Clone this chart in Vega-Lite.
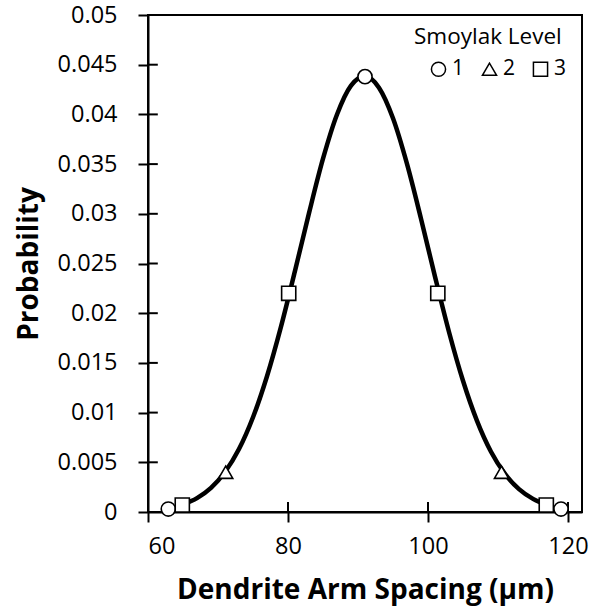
{
  "$schema": "https://vega.github.io/schema/vega-lite/v6.json",
  "width": 434,
  "height": 497,
  "autosize": "none",
  "padding": {"left": 148, "top": 15, "right": 7, "bottom": 96},
  "background": "white",
  "config": {
    "view": {"stroke": "black", "strokeWidth": 2},
    "font": "Open Sans",
    "axis": {"grid": false, "domainColor": "black", "domainWidth": 2, "tickColor": "black", "tickWidth": 2, "tickSize": 10, "labelColor": "black", "labelFont": "Open Sans", "labelFontSize": 23.5, "titleFont": "Open Sans", "titleColor": "black", "titleFontWeight": "bold", "titleFontSize": 28}
  },
  "datasets": {
    "curve": [
      {"x": 65, "p": 0.00076}, {"x": 67, "p": 0.00139}, {"x": 69, "p": 0.00242}, {"x": 71, "p": 0.00402},
      {"x": 73, "p": 0.00633}, {"x": 75, "p": 0.00953}, {"x": 77, "p": 0.01366}, {"x": 79, "p": 0.01865},
      {"x": 81, "p": 0.02426}, {"x": 83, "p": 0.03007}, {"x": 85, "p": 0.03554}, {"x": 87, "p": 0.03999},
      {"x": 89, "p": 0.0429}, {"x": 91, "p": 0.04384}, {"x": 93, "p": 0.04269}, {"x": 95, "p": 0.03961},
      {"x": 97, "p": 0.03502}, {"x": 99, "p": 0.02951}, {"x": 101, "p": 0.02368}, {"x": 103, "p": 0.01811},
      {"x": 105, "p": 0.0132}, {"x": 107, "p": 0.00917}, {"x": 109, "p": 0.00606}, {"x": 111, "p": 0.00383},
      {"x": 113, "p": 0.0023}, {"x": 115, "p": 0.00132}, {"x": 117, "p": 0.00072}
    ],
    "markers": [
      {"x": 62.9, "p": 0.0003, "level": "1"},
      {"x": 64.9, "p": 0.0007, "level": "3"},
      {"x": 71.1, "p": 0.004, "level": "2"},
      {"x": 80.1, "p": 0.022, "level": "3"},
      {"x": 91.0, "p": 0.0438, "level": "1"},
      {"x": 101.4, "p": 0.022, "level": "3"},
      {"x": 110.5, "p": 0.004, "level": "2"},
      {"x": 116.9, "p": 0.0007, "level": "3"},
      {"x": 119.0, "p": 0.0003, "level": "1"}
    ],
    "xticks": [{"v": 60}, {"v": 80}, {"v": 100}, {"v": 120}],
    "yticks": [{"v": 0}, {"v": 0.005}, {"v": 0.01}, {"v": 0.015}, {"v": 0.02}, {"v": 0.025}, {"v": 0.03}, {"v": 0.035}, {"v": 0.04}, {"v": 0.045}, {"v": 0.05}]
  },
  "layer": [
    {
      "data": {"name": "xticks"},
      "mark": {"type": "rule", "color": "black", "strokeWidth": 2},
      "encoding": {
        "x": {"field": "v", "type": "quantitative", "scale": {"domain": [60, 122], "nice": false}, "axis": {"values": [60, 80, 100, 120], "title": "Dendrite Arm Spacing (µm)", "labelPadding": 12, "titlePadding": 19}},
        "y": {"datum": 0, "type": "quantitative", "scale": {"domain": [0, 0.05], "nice": false}, "axis": {"values": [0, 0.005, 0.01, 0.015, 0.02, 0.025, 0.03, 0.035, 0.04, 0.045, 0.05], "format": ".3~f", "title": "Probability", "labelPadding": 21, "titlePadding": 14}},
        "y2": {"datum": 0.001}
      }
    },
    {
      "data": {"name": "yticks"},
      "mark": {"type": "rule", "color": "black", "strokeWidth": 2},
      "encoding": {
        "y": {"field": "v", "type": "quantitative"},
        "x": {"datum": 60, "type": "quantitative"},
        "x2": {"datum": 61.4}
      }
    },
    {
      "data": {"name": "curve"},
      "mark": {"type": "line", "color": "black", "strokeWidth": 4.5, "interpolate": "monotone"},
      "encoding": {
        "x": {"field": "x", "type": "quantitative"},
        "y": {"field": "p", "type": "quantitative"}
      }
    },
    {
      "data": {"name": "markers"},
      "mark": {"type": "point", "filled": false, "fill": "white", "fillOpacity": 1, "stroke": "black", "strokeWidth": 1.6, "size": 200, "opacity": 1},
      "encoding": {
        "x": {"field": "x", "type": "quantitative"},
        "y": {"field": "p", "type": "quantitative"},
        "shape": {
          "field": "level", "type": "nominal",
          "scale": {"domain": ["1", "2", "3"], "range": ["circle", "triangle-up", "square"]},
          "legend": {
            "title": "Smoylak Level",
            "orient": "none",
            "legendX": 266,
            "legendY": 11,
            "direction": "horizontal",
            "titleFontWeight": "normal",
            "titleFontSize": 22.5,
            "titleFont": "Open Sans",
            "titleColor": "black",
            "titlePadding": 10,
            "labelFontSize": 21,
            "labelFont": "Open Sans",
            "labelColor": "black",
            "labelOffset": 3,
            "symbolSize": 200,
            "symbolOffset": 14,
            "columnPadding": -4,
            "padding": 0,
            "encode": {
              "symbols": {"update": {"stroke": {"value": "black"}, "fill": {"value": "white"}, "strokeWidth": {"value": 1.4}, "opacity": {"value": 1}}}
            }
          }
        }
      }
    }
  ]
}
